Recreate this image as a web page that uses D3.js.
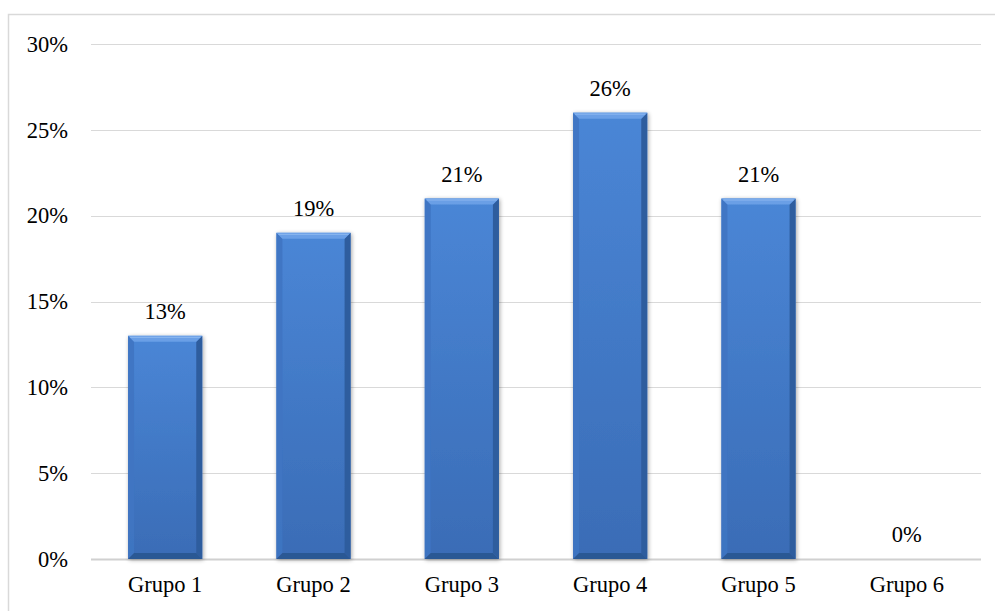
<!DOCTYPE html>
<html>
<head>
<meta charset="utf-8">
<script src="https://cdn.jsdelivr.net/npm/d3@7"></script>
<style>
  html, body { margin: 0; padding: 0; background: #fff; }
  svg { display: block; }
  svg text { font-family: "Liberation Serif", "Times New Roman", serif !important; fill: #000; }
</style>
</head>
<body>
<svg id="chart" width="995" height="611"></svg>
<script>
// Share of respondents in each group (percent)
const categories = ["Grupo 1", "Grupo 2", "Grupo 3", "Grupo 4", "Grupo 5", "Grupo 6"];
const values = [13, 19, 21, 26, 21, 0];
const tickValues = [0, 5, 10, 15, 20, 25, 30];

const FONT = "'Liberation Serif', 'Times New Roman', serif";
const FS = 22.5;
const svg = d3.select("#chart");
const W = 995, H = 611;
const margin = { left: 91, right: 13, top: 44, bottom: 52 };

// outer chart frame (left and top edges visible)
svg.append("path")
  .attr("d", `M8.5,${H} L8.5,14.5 L${W},14.5`)
  .attr("fill", "none")
  .attr("stroke", "#d9d9d9")
  .attr("stroke-width", 1.5);

const x = d3.scaleBand()
  .domain(categories)
  .range([margin.left, W - margin.right - 1])
  .paddingInner(0.5)
  .paddingOuter(0.25);

const y = d3.scaleLinear()
  .domain([0, 30])
  .range([H - margin.bottom, margin.top]);

// horizontal gridlines
svg.append("g")
  .selectAll("line")
  .data(tickValues)
  .join("line")
  .attr("x1", margin.left)
  .attr("x2", W - margin.right - 1)
  .attr("y1", d => Math.round(y(d)) + 0.5)
  .attr("y2", d => Math.round(y(d)) + 0.5)
  .attr("stroke", d => d === 0 ? "#d0d0d0" : "#d9d9d9")
  .attr("stroke-width", d => d === 0 ? 2 : 1.2);

// y axis labels
const yAxis = d3.axisLeft(y)
  .tickValues(tickValues)
  .tickFormat(d => d + "%")
  .tickSize(0)
  .tickPadding(0);
const yg = svg.append("g")
  .attr("transform", `translate(68,0)`)
  .call(yAxis)
  .attr("font-family", FONT)
  .attr("font-size", FS);
yg.select(".domain").remove();
yg.selectAll("text").style("font-family", FONT).attr("fill", "#000");

// x axis labels
const xAxis = d3.axisBottom(x).tickSize(0).tickPadding(0);
const xg = svg.append("g")
  .attr("transform", `translate(0,${H - margin.bottom + 17})`)
  .call(xAxis)
  .attr("font-family", FONT)
  .attr("font-size", FS);
xg.select(".domain").remove();
xg.selectAll("text").style("font-family", FONT).attr("fill", "#000");

// gradients and shadow for bevelled bars
const defs = svg.append("defs");
const face = defs.append("linearGradient")
  .attr("id", "face").attr("x1", 0).attr("y1", 0).attr("x2", 0).attr("y2", 1);
face.append("stop").attr("offset", "0%").attr("stop-color", "#4a86d6");
face.append("stop").attr("offset", "100%").attr("stop-color", "#3a6cb6");

const shadow = defs.append("filter").attr("id", "shadow")
  .attr("x", "-10%").attr("y", "-10%").attr("width", "125%").attr("height", "125%");
shadow.append("feGaussianBlur").attr("in", "SourceAlpha").attr("stdDeviation", 2);
shadow.append("feOffset").attr("dx", 1).attr("dy", 1).attr("result", "b");
shadow.append("feComponentTransfer").append("feFuncA").attr("type", "linear").attr("slope", 0.35);
const merge = shadow.append("feMerge");
merge.append("feMergeNode");
merge.append("feMergeNode").attr("in", "SourceGraphic");

const bev = 6;
const data = categories.map((c, i) => ({ c, v: values[i] }));
const bars = svg.append("g")
  .selectAll("g")
  .data(data.filter(d => d.v > 0))
  .join("g")
  .attr("filter", "url(#shadow)");

bars.each(function(d) {
  const g = d3.select(this);
  const x0 = x(d.c), x1 = x0 + x.bandwidth();
  const y0 = y(d.v), y1 = y(0);
  // base face
  g.append("rect")
    .attr("x", x0).attr("y", y0)
    .attr("width", x1 - x0).attr("height", y1 - y0)
    .attr("fill", "url(#face)");
  // left edge
  g.append("path")
    .attr("d", `M${x0},${y0} L${x0 + bev},${y0 + bev} L${x0 + bev},${y1 - bev} L${x0},${y1} Z`)
    .attr("fill", "#3f74c2").attr("opacity", 0.9);
  // right edge
  g.append("path")
    .attr("d", `M${x1},${y0} L${x1 - bev},${y0 + bev} L${x1 - bev},${y1 - bev} L${x1},${y1} Z`)
    .attr("fill", "#2f5d9e");
  // bottom edge
  g.append("path")
    .attr("d", `M${x0},${y1} L${x0 + bev},${y1 - bev} L${x1 - bev},${y1 - bev} L${x1},${y1} Z`)
    .attr("fill", "#2c5894");
  // top edge (highlight)
  g.append("path")
    .attr("d", `M${x0},${y0} L${x1},${y0} L${x1 - bev},${y0 + bev} L${x0 + bev},${y0 + bev} Z`)
    .attr("fill", "#6a9fe6");
  g.append("line")
    .attr("x1", x0 + 2).attr("x2", x1 - 2)
    .attr("y1", y0 + 1.5).attr("y2", y0 + 1.5)
    .attr("stroke", "#8cb8f0").attr("stroke-width", 1);
});

// value labels
svg.append("g")
  .selectAll("text")
  .data(data)
  .join("text")
  .attr("x", d => x(d.c) + x.bandwidth() / 2)
  .attr("y", d => y(d.v) - 17)
  .attr("text-anchor", "middle")
  .attr("font-size", FS)
  .style("font-family", FONT)
  .text(d => d.v + "%");
</script>
</body>
</html>
